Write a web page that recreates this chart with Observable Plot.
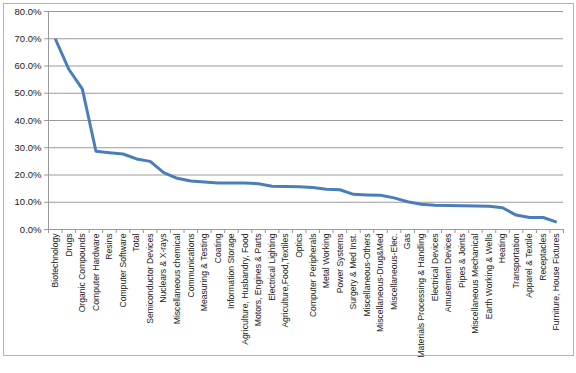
<!DOCTYPE html>
<html>
<head>
<meta charset="utf-8">
<script src="https://cdn.jsdelivr.net/npm/d3@7"></script>
<script src="https://cdn.jsdelivr.net/npm/@observablehq/plot@0.6"></script>
<style>
  html, body { margin: 0; padding: 0; background: #fff; }
  #wrap { position: relative; width: 576px; height: 373px; }
  #frame { position: absolute; left: 3px; top: 3px; width: 569px; height: 351px; border: 1px solid #b3b3b3; pointer-events: none; }
  #chart { position: absolute; left: 0; top: 0; }
</style>
</head>
<body>
<div id="wrap"><div id="chart"></div><div id="frame"></div></div>
<script>
const categories = [
  "Biotechnology", "Drugs", "Organic Compounds", "Computer Hardware", "Resins",
  "Computer Software", "Total", "Semiconductor Devices", "Nuclears & X-rays",
  "Miscellaneous chemical", "Communications", "Measuring & Testing", "Coating",
  "Information Storage", "Agriculture, Husbandry, Food", "Motors, Engines & Parts",
  "Electrical Lighting", "Agriculture,Food,Textiles", "Optics", "Computer Peripherals",
  "Metal Working", "Power Systems", "Surgery & Med Inst.", "Miscellaneous-Others",
  "Miscellaneous-Drug&Med", "Miscellaneous-Elec.", "Gas",
  "Materials Processing & Handling", "Electrical Devices", "Amusement Devices",
  "Pipes & Joints", "Miscellaneous Mechanical", "Earth Working & Wells", "Heating",
  "Transportation", "Apparel & Textile", "Receptacles", "Furniture, House Fixtures"
];
const values = [
  70.0, 58.8, 51.5, 28.7, 28.2, 27.7, 25.9, 25.0, 20.9, 18.8,
  17.8, 17.4, 17.1, 17.1, 17.1, 16.8, 15.9, 15.8, 15.7, 15.4,
  14.8, 14.6, 12.9, 12.7, 12.6, 11.6, 10.2, 9.3, 8.9, 8.8,
  8.7, 8.6, 8.5, 8.0, 5.3, 4.4, 4.4, 2.7
];
const yTicks = [0, 10, 20, 30, 40, 50, 60, 70, 80];

const data = categories.map((c, i) => ({i, c, v: values[i]}));
const idx = d3.range(categories.length);
const bounds = d3.range(categories.length + 1).map(i => i - 0.5);
const font = "'Liberation Sans', Arial, sans-serif";

const chart = Plot.plot({
  width: 576,
  height: 373,
  marginLeft: 48,
  marginRight: 13,
  marginTop: 11,
  marginBottom: 144,
  style: {fontFamily: font, color: "#222", background: "transparent"},
  x: {type: "linear", domain: [-0.5, categories.length - 0.5]},
  y: {domain: [0, 80]},
  marks: [
    Plot.gridY(yTicks, {stroke: "#9a9a9a", strokeOpacity: 1, strokeWidth: 1}),
    Plot.ruleX([-0.5], {stroke: "#9a9a9a", strokeWidth: 1}),
    Plot.ruleY([0], {stroke: "#9a9a9a", strokeWidth: 1}),
    Plot.axisY({ticks: yTicks, tickFormat: d => d.toFixed(1) + "%", tickSize: 4, tickPadding: 3, stroke: "#9a9a9a", fontSize: 9.5, fill: "#222", label: null}),
    Plot.axisX({ticks: bounds, tickFormat: () => "", tickSize: 4, stroke: "#9a9a9a", label: null}),
    Plot.axisX({ticks: idx, tickFormat: i => categories[i], tickSize: 0, tickPadding: 4, tickRotate: -90, fontSize: 8.6, fill: "#222", label: null}),
    Plot.line(data, {x: "i", y: "v", stroke: "#4a7ebb", strokeWidth: 3, strokeLinejoin: "round", strokeLinecap: "butt"})
  ]
});
document.getElementById("chart").appendChild(chart);
</script>
</body>
</html>
